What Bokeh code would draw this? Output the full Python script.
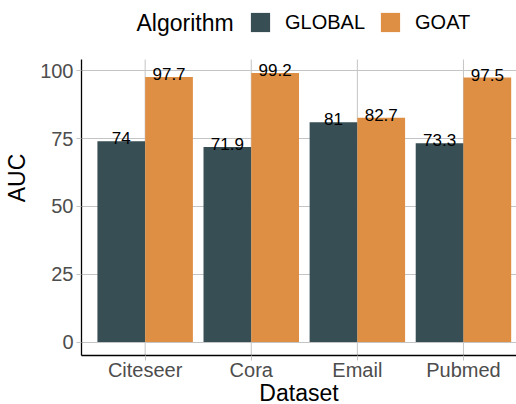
import numpy as np
from bokeh.plotting import figure
from bokeh.models import (ColumnDataSource, Range1d, FixedTicker, Legend, LegendItem, Label)
from bokeh.core.properties import value
from bokeh.embed import file_html
from bokeh.resources import INLINE

datasets = ["Citeseer", "Cora", "Email", "Pubmed"]
global_auc = [74.0, 71.9, 81.0, 73.3]
goat_auc = [97.7, 99.2, 82.7, 97.5]
global_labels = ["74", "71.9", "81", "73.3"]
goat_labels = ["97.7", "99.2", "82.7", "97.5"]
y_ticks = [0, 25, 50, 75, 100]

C_GLOBAL = "#374E55"
C_GOAT = "#DF8F44"
FONT = "Liberation Sans"
GRID = "#C4C4C4"

xpos = np.arange(1, len(datasets) + 1)
bw = 0.45
src_gl = ColumnDataSource(dict(x=xpos - bw / 2, top=global_auc, lab=global_labels))
src_go = ColumnDataSource(dict(x=xpos + bw / 2, top=goat_auc, lab=goat_labels))

ymax = max(max(global_auc), max(goat_auc))
pad = 0.05 * ymax
ylo, yhi = -pad, ymax + pad
PANEL_H = 296      # height of the data panel in px
FRAME_H = 355      # frame extends to the top of the canvas so the legend fits inside
y_top = ylo + (yhi - ylo) * FRAME_H / PANEL_H

p = figure(width=516, height=404, output_backend="svg", toolbar_location=None,
           x_range=Range1d(0.4, 4.5), y_range=Range1d(ylo, y_top),
           frame_width=435, frame_height=FRAME_H,
           min_border_left=81, min_border_right=0, min_border_top=0, min_border_bottom=49)
p.outline_line_color = None
p.background_fill_color = "white"

# vertical grid lines limited to the data panel
p.segment(x0=xpos, y0=[ylo] * len(xpos), x1=xpos, y1=[yhi] * len(xpos),
          line_color=GRID, line_width=1, level="underlay")

r1 = p.vbar(x="x", top="top", bottom=0, width=bw, source=src_gl, fill_color=C_GLOBAL, line_color=None)
r2 = p.vbar(x="x", top="top", bottom=0, width=bw, source=src_go, fill_color=C_GOAT, line_color=None)

for s in (src_gl, src_go):
    p.text(x="x", y="top", text="lab", source=s, text_align="center", text_baseline="bottom",
           y_offset=3, text_font_size="17px", text_color="black", text_font=value(FONT))

p.xaxis.ticker = FixedTicker(ticks=list(xpos))
p.xaxis.major_label_overrides = {int(i): d for i, d in zip(xpos, datasets)}
p.yaxis.ticker = FixedTicker(ticks=y_ticks)
p.yaxis.bounds = (ylo, yhi)
p.xgrid.visible = False
p.ygrid.ticker = FixedTicker(ticks=y_ticks)
p.ygrid.grid_line_color = GRID
p.ygrid.grid_line_width = 1

p.xaxis.axis_label = "Dataset"
p.yaxis.axis_label = "AUC"
for ax in (p.xaxis, p.yaxis):
    ax.axis_line_color = "black"
    ax.axis_line_width = 1.3
    ax.major_tick_line_color = GRID
    ax.major_tick_out = 5
    ax.major_tick_in = 0
    ax.minor_tick_line_color = None
    ax.major_label_text_font = FONT
    ax.major_label_text_font_size = "20px"
    ax.major_label_text_color = "#4D4D4D"
    ax.axis_label_text_font = FONT
    ax.axis_label_text_font_size = "23px"
    ax.axis_label_text_font_style = "normal"
    ax.axis_label_text_color = "black"
p.xaxis.major_label_standoff = -2
p.yaxis.major_label_standoff = 3
p.xaxis.axis_label_standoff = -4
p.yaxis.axis_label_standoff = 7

legend = Legend(items=[LegendItem(label="GLOBAL", renderers=[r1]),
                       LegendItem(label="GOAT", renderers=[r2])],
                orientation="horizontal", location=(167, 321),
                glyph_width=24, glyph_height=24, label_text_font=FONT,
                label_text_font_size="20px", label_text_color="black",
                label_standoff=13, spacing=13,
                padding=0, margin=0, border_line_color=None, background_fill_alpha=0)
p.add_layout(legend, "center")

p.add_layout(Label(x=55, y=333, x_units="screen", y_units="screen", text="Algorithm",
                   text_font=FONT, text_font_size="23px", text_color="black",
                   text_baseline="middle"))

open("out.html", "w").write(file_html(p, INLINE))
